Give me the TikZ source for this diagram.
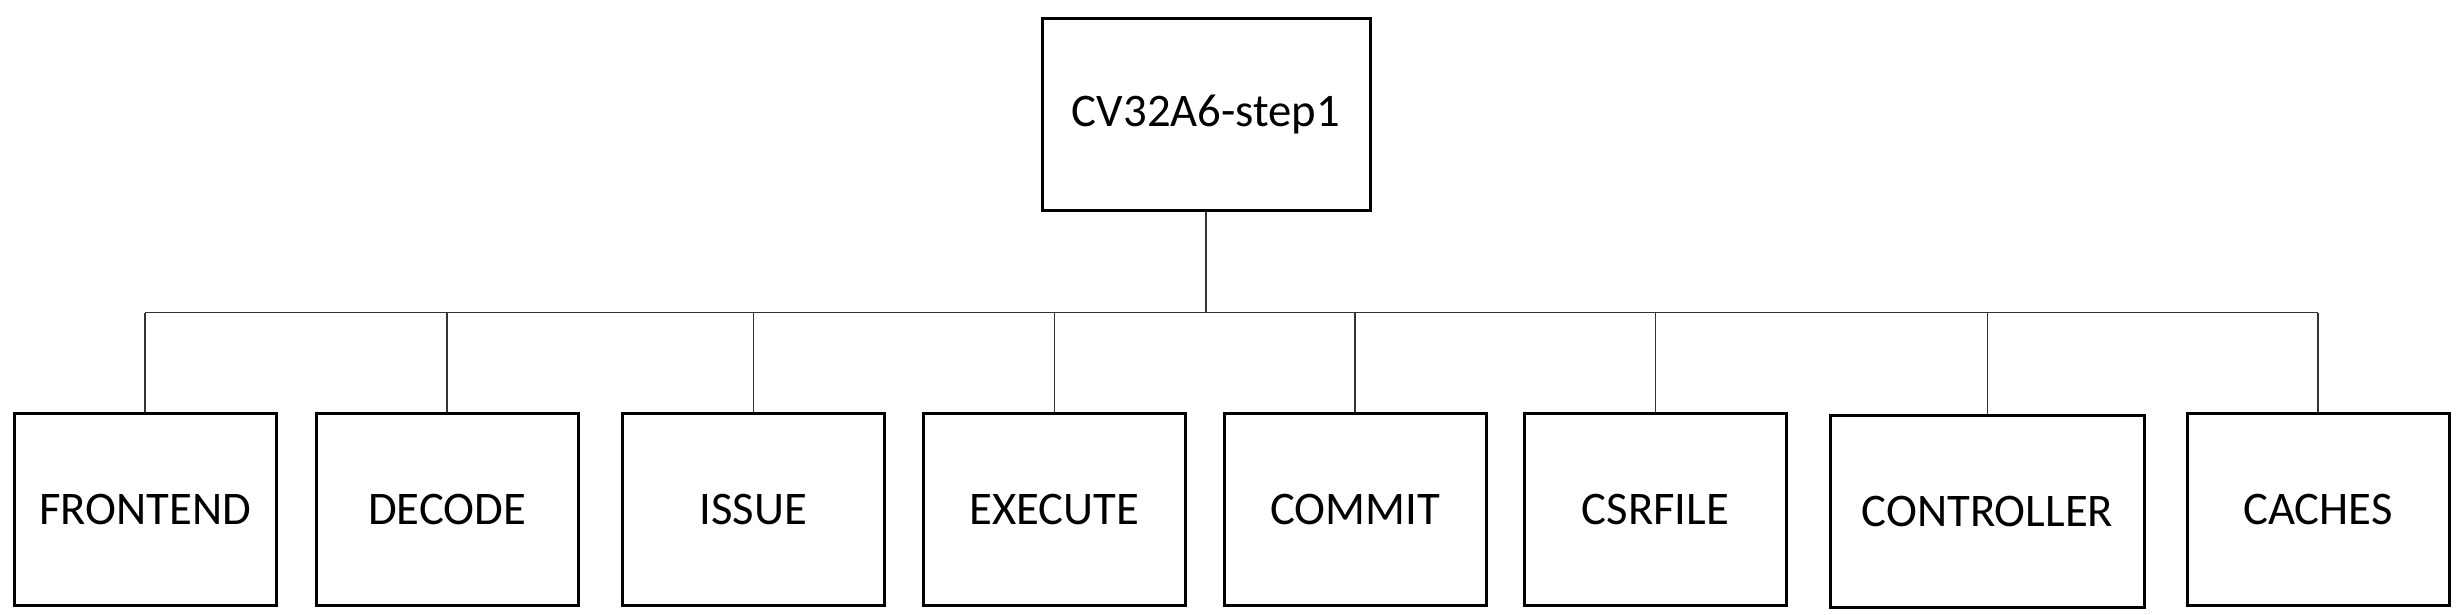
\documentclass[tikz,border=0pt]{standalone}
\usepackage{fontspec}
\setmainfont{Carlito}
\begin{document}
\begin{tikzpicture}[x=1pt,y=-1pt,
  box/.style={draw,line width=3pt,minimum width=262pt,minimum height=192pt,inner sep=0pt,font=\fontsize{46.7}{56}\selectfont},
  conn/.style={line width=1.4pt,draw=black!80}]
\useasboundingbox (0,0) rectangle (2458,615);
\node[box,minimum width=328pt] (top) at (1206,114.5) {CV32A6-step1};
\node[box] (fe)  at (145,509.7)   {FRONTEND};
\node[box] (dec) at (447,509.7)   {DECODE};
\node[box] (iss) at (753.5,509.7) {ISSUE};
\node[box] (exe) at (1054.5,509.7) {EXECUTE};
\node[box] (com) at (1355,509.7)  {COMMIT};
\node[box] (csr) at (1655.5,509.7) {CSRFILE};
\node[box,minimum width=314pt] (ctl) at (1987.5,511.7) {CONTROLLER};
\node[box] (cac) at (2318,509.7)  {CACHES};
\coordinate (busy) at (0,312.7);
\draw[conn] (top.south) -- (top.south |- busy);
\draw[conn] (fe.north |- busy) -- (cac.north |- busy);
\foreach \n in {fe,dec,iss,exe,com,csr,ctl,cac}
  \draw[conn] (\n.north |- busy) -- (\n.north);
\end{tikzpicture}
\end{document}
